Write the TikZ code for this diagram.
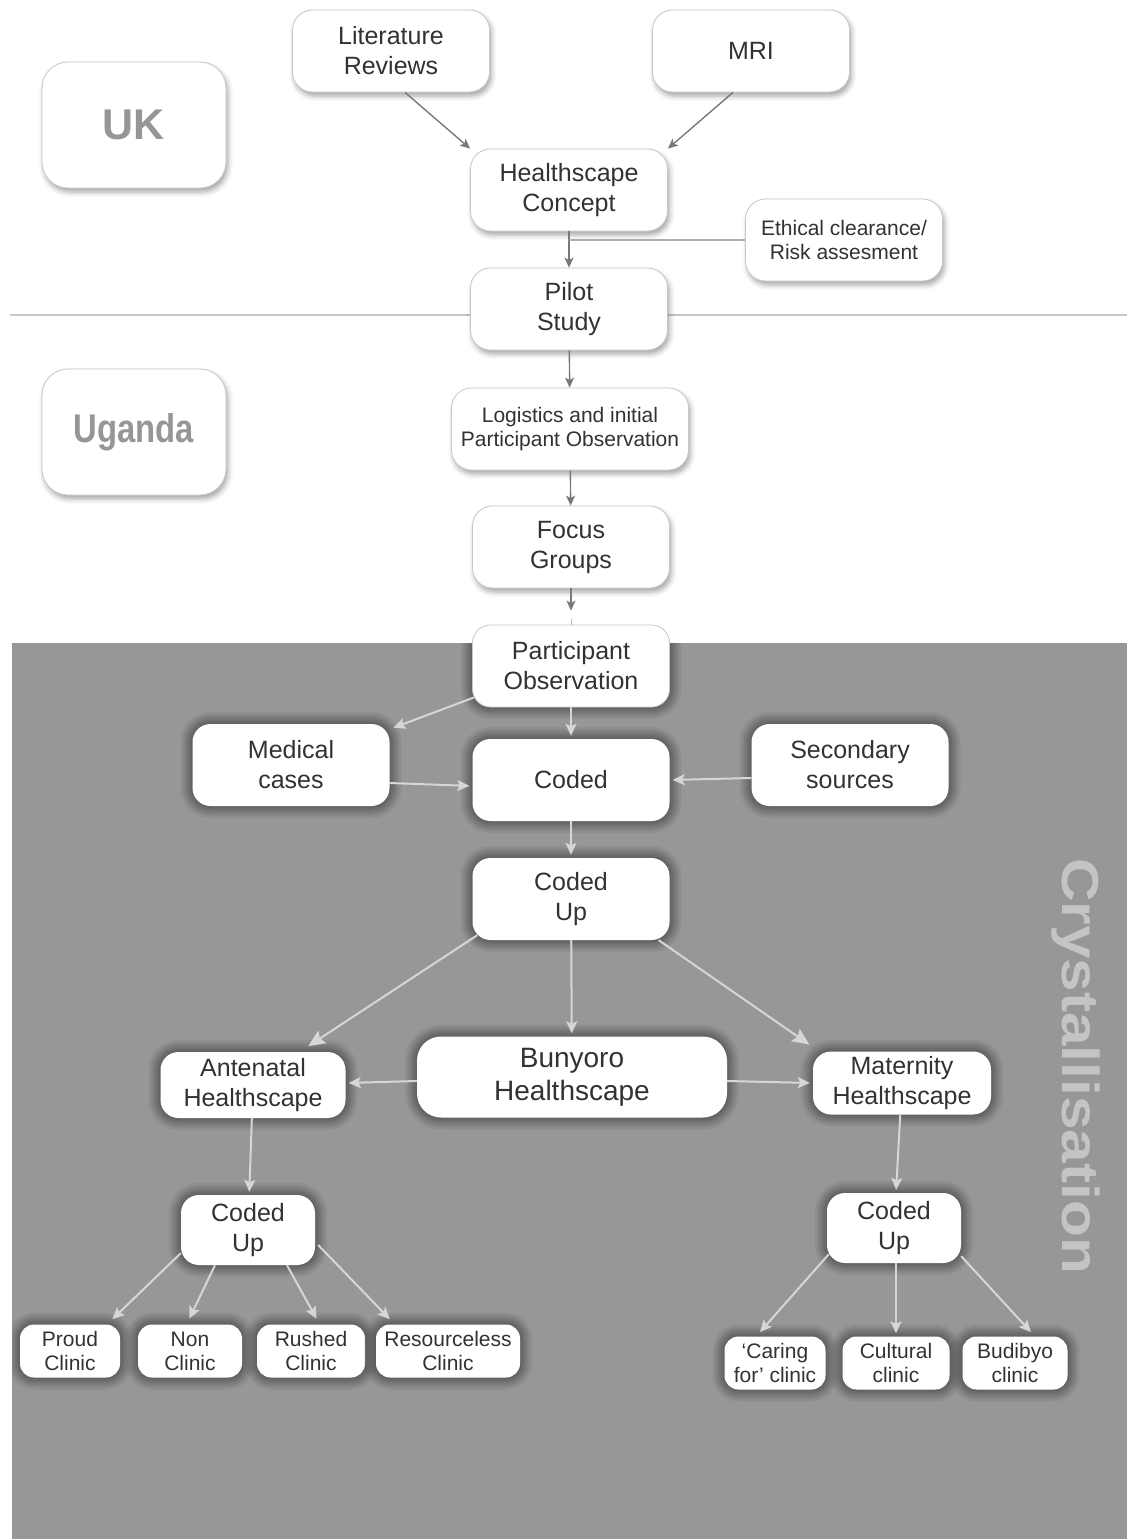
\documentclass[tikz,border=0pt]{standalone}
\usepackage{fontspec}
\setmainfont{Liberation Sans}
\usetikzlibrary{arrows.meta,shadows.blur,calc}

\definecolor{panel}{RGB}{151,151,151}
\definecolor{halo}{RGB}{70,70,70}
\definecolor{ink}{RGB}{50,50,50}
\definecolor{wire}{RGB}{120,120,120}
\definecolor{lightwire}{RGB}{214,214,214}
\definecolor{regiontext}{RGB}{150,150,150}
\definecolor{watermark}{RGB}{196,196,196}
\definecolor{divider}{RGB}{200,200,200}

\tikzset{
  bigfont/.style={font=\fontsize{25}{30}\selectfont},
  hugefont/.style={font=\fontsize{28}{33}\selectfont},
  smallfont/.style={font=\fontsize{21}{24}\selectfont},
  % boxes on the white part of the page
  box/.style={rectangle, rounded corners=20pt, fill=white, draw=black!22,
    line width=0.8pt, text=ink, align=center, inner sep=0pt,
    blur shadow={shadow xshift=2pt, shadow yshift=-4pt,
      shadow blur radius=5pt, shadow opacity=35}},
  regionbox/.style={box, rounded corners=26pt, text=regiontext,
    minimum width=184pt, minimum height=126pt},
  % soft dark glow round a box on the grey panel
  glow/.style={draw=halo, draw opacity=0.18,
    preaction={draw=halo, draw opacity=0.1, line width=24pt},
    preaction={draw=halo, draw opacity=0.12, line width=19pt},
    preaction={draw=halo, draw opacity=0.14, line width=15pt},
    preaction={draw=halo, draw opacity=0.16, line width=11pt},
    preaction={draw=halo, draw opacity=0.2, line width=7pt},
    line width=3pt},
  plain/.style={rectangle, rounded corners=18pt, fill=white, text=ink,
    align=center, inner sep=0pt},
  pbox/.style={plain, preaction={glow}},
  clinic/.style={pbox, smallfont, rounded corners=14pt, minimum height=53pt},
  std/.style={minimum width=197pt, minimum height=82pt},
  topwire/.style={draw=wire, line width=1.4pt,
    -{Stealth[length=10pt,width=9pt,inset=2.5pt]}},
  panelwire/.style={draw=lightwire, line width=2pt, shorten >=3pt,
    -{Stealth[length=12pt,width=11pt,inset=2.5pt]}},
  panelwirebig/.style={panelwire,
    -{Stealth[length=17pt,width=15pt,inset=3pt]}}
}

\begin{document}
\begin{tikzpicture}[x=1pt,y=-1pt]
\useasboundingbox (0,0) rectangle (1129,1539);

% grey panel of the crystallisation stage
\fill[panel] (12,643) rectangle (1127,1539);
\node[rotate=-90, anchor=base west, text=watermark, inner sep=0pt]
  (cryst) at (1062,858)
  {\scalebox{1.16}[1]{\fontsize{52}{60}\selectfont\bfseries Crystallisation}};

% UK / Uganda divider
\draw[divider, line width=2pt] (10,315) -- (1127,315);

% region labels
\node[regionbox, font=\fontsize{43}{50}\selectfont\bfseries] (uk) at (134,125) {UK};
\node[regionbox, font=\fontsize{40}{50}\selectfont\bfseries] (uganda) at (134,432)
  {\scalebox{0.82}[1]{Uganda}};

% UK stage
\node[box, bigfont, std] (lit) at (391,51) {Literature\\Reviews};
\node[box, bigfont, std] (mri) at (751,51) {MRI};
\node[box, bigfont, std] (hc) at (569,190) {Healthscape\\Concept};
\node[box, smallfont, std] (eth) at (844,240) {Ethical clearance/\\Risk assesment};
\node[box, bigfont, std] (pilot) at (569,309) {Pilot\\Study};

% Uganda stage
\node[box, smallfont, minimum width=237pt, minimum height=82pt] (logi) at (570,429)
  {Logistics and initial\\Participant Observation};
\node[box, bigfont, std] (focus) at (571,547) {Focus\\Groups};

% crystallisation stage: glows stay inside the panel
\coordinate (poc) at (571,666);
\begin{scope}
  \clip (12,643) rectangle (1127,1539);
  \path[glow, rounded corners=18pt]
    ($(poc)+(-98.5,-41)$) rectangle ($(poc)+(98.5,41)$);

  \node[pbox, bigfont, std] (med) at (291,765) {Medical\\cases};
  \node[pbox, bigfont, std] (coded) at (571,780) {Coded};
  \node[pbox, bigfont, std] (sec) at (850,765) {Secondary\\sources};
  \node[pbox, bigfont, std] (cu) at (571,899) {Coded\\Up};
  \node[pbox, bigfont, minimum width=185pt, minimum height=66pt] (ant) at (253,1085)
    {Antenatal\\Healthscape};
  \node[pbox, hugefont, rounded corners=24pt, minimum width=310pt, minimum height=81pt]
    (buny) at (572,1077) {Bunyoro\\Healthscape};
  \node[pbox, bigfont, minimum width=178pt, minimum height=63pt] (mat) at (902,1083)
    {Maternity\\Healthscape};
  \node[pbox, bigfont, minimum width=134pt, minimum height=70pt] (cul) at (248,1230)
    {Coded\\Up};
  \node[pbox, bigfont, minimum width=134pt, minimum height=70pt] (cur) at (894,1228)
    {Coded\\Up};

  \node[clinic, minimum width=100pt] (proud) at (70,1351) {Proud\\Clinic};
  \node[clinic, minimum width=104pt] (non) at (190,1351) {Non\\Clinic};
  \node[clinic, minimum width=108pt] (rushed) at (311,1351) {Rushed\\Clinic};
  \node[clinic, minimum width=144pt] (res) at (448,1351) {Resourceless\\Clinic};
  \node[clinic, minimum width=101pt] (caring) at (775,1363) {`Caring\\for' clinic};
  \node[clinic, minimum width=107pt] (cult) at (896,1363) {Cultural\\clinic};
  \node[clinic, minimum width=105pt] (bud) at (1015,1363) {Budibyo\\clinic};
\end{scope}
% this box straddles the panel edge
\node[plain, bigfont, std, draw=black!22, line width=0.8pt] (po) at (poc)
  {Participant\\Observation};

% connectors, white part
\draw[topwire] ($(lit.south)+(14,0)$) -- (hc.north west);
\draw[topwire] ($(mri.south)+(-18,0)$) -- (hc.north east);
\draw[topwire] (hc) -- (pilot);
\draw[draw=wire!60, line width=1.1pt] (eth.west) -- (eth.west -| hc);
\draw[topwire] (pilot) -- (logi);
\draw[topwire] (logi) -- (focus);
\draw[topwire] (focus) -- ($(po.north)+(0,-14)$);
\draw[draw=wire!50, line width=1pt] ($(po.north)+(0,-6)$) -- (po.north);

% connectors, grey panel
\draw[panelwire] ($(po.south west)+(2,-10)$) -- ($(med.north east)+(1,5)$);
\draw[panelwire] (po) -- (coded);
\draw[panelwire] ($(med.east)+(0,18)$) -- ($(coded.west)+(0,6)$);
\draw[panelwire] ($(sec.west)+(0,13)$) -- (coded.east);
\draw[panelwire] (coded) -- (cu);
\draw[panelwirebig] ($(cu.south west)+(5,-5)$) -- ($(ant.north east)+(-40,-4)$);
\draw[panelwire] (cu) -- (buny);
\draw[panelwirebig] ($(cu.south east)+(-11,0)$) -- ($(mat.north west)+(-1,-5)$);
\draw[panelwire] ($(buny.west)+(0,4)$) -- ($(ant.east)+(0,-2)$);
\draw[panelwire] ($(buny.east)+(0,4)$) -- (mat.west);
\draw[panelwire] (ant) -- (cul);
\draw[panelwire] (mat) -- (cur);
\draw[panelwire] ($(cul.south west)+(0,-12)$) -- ($(proud.north east)+(-10,-3)$);
\draw[panelwire] ($(cul.south)+(-33,0)$) -- ($(non.north)+(-2,-3)$);
\draw[panelwire] ($(cul.south)+(39,0)$) -- ($(rushed.north)+(7,-3)$);
\draw[panelwire] ($(cul.east)+(3,15)$) -- ($(res.north west)+(16,-3)$);
\draw[panelwire] ($(cur.south west)+(2,-9)$) -- ($(caring.north)+(-17,-2)$);
\draw[panelwire] ($(cur.south)+(2,0)$) -- (cult.north);
\draw[panelwire] ($(cur.south east)+(0,-7)$) -- ($(bud.north)+(18,-2)$);
\end{tikzpicture}
\end{document}
